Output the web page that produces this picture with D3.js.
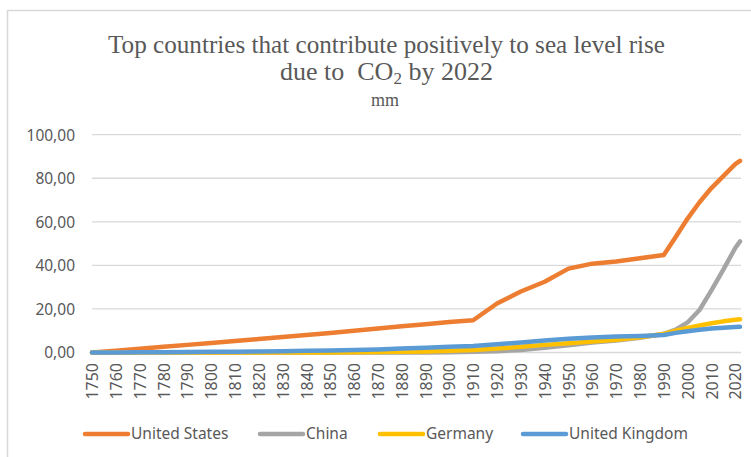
<!DOCTYPE html>
<html>
<head>
<meta charset="utf-8">
<script src="https://cdn.jsdelivr.net/npm/d3@7"></script>
<style>
  html, body { margin: 0; padding: 0; background: #fff; }
  svg { display: block; }
</style>
</head>
<body>
<svg id="chart" width="751" height="457"></svg>
<script>
// Cumulative sea level rise attributed to CO2 emissions (mm), by year
const years = [1750,1760,1770,1780,1790,1800,1810,1820,1830,1840,1850,1860,1870,1880,1890,1900,
               1910,1920,1930,1940,1950,1960,1970,1980,1990,1995,2000,2005,2010,2015,2020,2022];

const unitedStates = [0,0.8,1.7,2.6,3.5,4.4,5.3,6.2,7.1,8.0,9.0,10.0,11.0,12.0,13.0,14.0,
                      14.8,22.5,28.0,32.5,38.5,40.8,41.8,43.3,44.8,53.0,61.5,69.0,75.5,81.0,86.5,88.0];
const china        = [0,0,0,0,0,0,0,0,0,0,0,0,0,0,0,0.1,
                      0.3,0.6,1.2,2.2,3.3,4.6,5.5,6.8,8.6,10.5,13.8,19.5,28.5,38.0,48.0,51.0];
const germany      = [0,0,0,0,0,0,0,0,0,0,0,0.1,0.2,0.35,0.5,0.8,
                      1.2,1.8,2.6,3.5,4.3,5.0,5.8,7.0,8.5,10.0,11.3,12.4,13.4,14.3,15.0,15.3];
const unitedKingdom = [0,0.05,0.1,0.15,0.2,0.3,0.4,0.5,0.6,0.75,0.9,1.1,1.4,1.8,2.2,2.6,
                      3.0,3.8,4.6,5.5,6.3,6.9,7.3,7.6,8.0,9.0,9.8,10.4,11.0,11.4,11.7,11.8];

const seriesNames = ["United States", "China", "Germany", "United Kingdom"];
const seriesColors = ["#ED7D31", "#A5A5A5", "#FFC000", "#5B9BD5"];
const seriesValues = [unitedStates, china, germany, unitedKingdom];

const yTicks = [0, 20, 40, 60, 80, 100];
const xTickYears = d3.range(1750, 2021, 10);

const svg = d3.select("#chart");

// chart area frame
svg.append("rect")
  .attr("x", 7.5).attr("y", 10.5)
  .attr("width", 800).attr("height", 500)
  .attr("fill", "#fff").attr("stroke", "#D9D9D9").attr("stroke-width", 1.5);

const x = d3.scaleLinear().domain([1750, 2022]).range([92, 740]);
const y = d3.scaleLinear().domain([0, 100]).range([352.5, 134.7]);

// horizontal gridlines
svg.append("g")
  .selectAll("line")
  .data(yTicks)
  .join("line")
  .attr("x1", 92).attr("x2", 741)
  .attr("y1", d => y(d)).attr("y2", d => y(d))
  .attr("stroke", "#D9D9D9").attr("stroke-width", 1.3);

const fmt = d => d3.format(".2f")(d).replace(".", ",");

// y axis labels
const yAxis = d3.axisLeft(y).tickValues(yTicks).tickFormat(fmt).tickSize(0).tickPadding(0);
const gy = svg.append("g").attr("transform", "translate(75,0)").call(yAxis);
gy.select(".domain").remove();
gy.selectAll("text")
  .attr("font-family", "'Noto Sans', sans-serif")
  .attr("font-size", 15.5)
  .attr("fill", "#595959")
  .attr("dy", "0.35em");

// x axis labels (rotated)
const xAxis = d3.axisBottom(x).tickValues(xTickYears).tickFormat(d3.format("d")).tickSize(0).tickPadding(0);
const gx = svg.append("g").attr("transform", "translate(0,363)").call(xAxis);
gx.select(".domain").remove();
gx.selectAll("text")
  .attr("font-family", "'Noto Sans', sans-serif")
  .attr("font-size", 16)
  .attr("fill", "#595959")
  .attr("text-anchor", "end")
  .attr("transform", "rotate(-90)")
  .attr("x", 0).attr("y", 0).attr("dy", "0.35em");

// series lines
const line = d3.line()
  .x((d, i) => x(years[i]))
  .y(d => y(d));

svg.append("g")
  .selectAll("path")
  .data(seriesValues)
  .join("path")
  .attr("d", d => line(d))
  .attr("fill", "none")
  .attr("stroke", (d, i) => seriesColors[i])
  .attr("stroke-width", 4.5)
  .attr("stroke-linejoin", "round")
  .attr("stroke-linecap", "round");

// legend
const legendX = [85, 260, 380, 523];
const legend = svg.append("g")
  .selectAll("g")
  .data(seriesNames)
  .join("g")
  .attr("transform", (d, i) => `translate(${legendX[i]},434)`);
legend.append("line")
  .attr("x1", 0).attr("x2", 43).attr("y1", 0).attr("y2", 0)
  .attr("stroke", (d, i) => seriesColors[i])
  .attr("stroke-width", 4.5)
  .attr("stroke-linecap", "round");
legend.append("text")
  .attr("x", 46).attr("y", 0).attr("dy", "0.35em")
  .attr("font-family", "'Noto Sans', sans-serif")
  .attr("font-size", 15.5)
  .attr("fill", "#595959")
  .text(d => d);

// title
const title = svg.append("g")
  .attr("font-family", "'Liberation Serif', 'Times New Roman', serif")
  .attr("fill", "#595959");
title.append("text")
  .attr("x", 108).attr("y", 53)
  .attr("font-size", 26)
  .attr("textLength", 557).attr("lengthAdjust", "spacingAndGlyphs")
  .text("Top countries that contribute positively to sea level rise");
const t2 = title.append("text")
  .attr("x", 280).attr("y", 80)
  .attr("font-size", 26)
  .attr("xml:space", "preserve")
  .style("white-space", "pre");
t2.append("tspan").text("due to\u00A0 CO");
t2.append("tspan").attr("font-size", 17).attr("dy", 4).text("2");
t2.append("tspan").attr("dy", -4).text(" by 2022");
title.append("text")
  .attr("x", 385).attr("y", 106)
  .attr("text-anchor", "middle")
  .attr("font-size", 18)
  .text("mm");
</script>
</body>
</html>
